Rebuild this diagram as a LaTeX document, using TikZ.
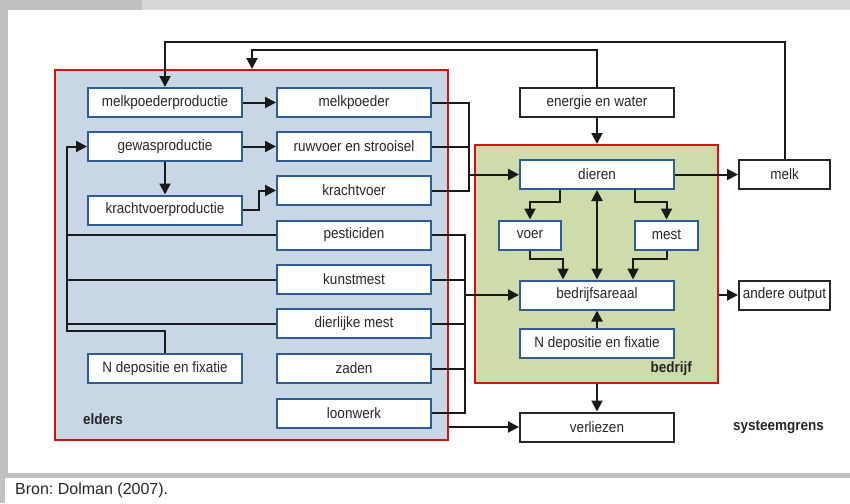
\documentclass[tikz,border=0pt]{standalone}
\usepackage{fontspec}
\setmainfont[FakeStretch=0.9]{Liberation Sans}
\newfontfamily\bronfont{Liberation Sans}
\usetikzlibrary{arrows.meta}

\definecolor{eldersblauw}{RGB}{200,214,230}
\definecolor{bedrijfgroen}{RGB}{205,220,170}
\definecolor{grensrood}{RGB}{208,20,20}
\definecolor{kaderblauw}{RGB}{46,92,150}
\definecolor{randgrijs}{RGB}{192,192,192}
\definecolor{kopgrijs}{RGB}{216,216,216}

\tikzset{
  blok/.style={draw=kaderblauw, line width=2pt, fill=white, inner sep=0pt,
    minimum width=154pt, minimum height=29pt, text=black!85,
    font=\fontsize{15}{15}\selectfont},
  kaal/.style={blok, draw=black!85},
  gebied/.style={draw=grensrood, line width=2pt, inner sep=0pt},
  lijn/.style={line width=2pt, black!90},
  pijl/.style={lijn, -{Triangle[length=11pt,width=11pt]}},
  dubbelpijl/.style={lijn, {Triangle[length=11pt,width=11pt]}-{Triangle[length=11pt,width=11pt]}},
  kop/.style={font=\fontsize{15}{15}\selectfont\bfseries, text=black!85, inner sep=0pt}
}

\begin{document}
\begin{tikzpicture}[x=1pt,y=-1pt]
    \useasboundingbox (0,0) rectangle (850,503);

    % grijze rand
    \fill[randgrijs] (0,0) rectangle (142,10);
    \fill[kopgrijs] (142,0) rectangle (850,10);
    \fill[randgrijs] (0,0) rectangle (8,478);
    \fill[randgrijs] (0,473) rectangle (850,478);
    \fill[randgrijs] (0,478) rectangle (5,503);
    \node[anchor=west, inner sep=0pt, text=black!85] (bron) at (15,490)
        {\bronfont\fontsize{16}{16}\selectfont\frenchspacing Bron: Dolman (2007).};

    % gebieden
    \node[gebied, fill=eldersblauw, minimum width=393pt, minimum height=370pt]
        (elders) at (251.5,255) {};
    \node[gebied, fill=bedrijfgroen, minimum width=243pt, minimum height=238pt]
        (bedrijf) at (596.5,264) {};
    \node[kop, anchor=west] (eldersnaam) at (83,419) {elders};
    \node[kop, anchor=east] (bedrijfnaam) at (692,369) {bedrijf};
    \node[kop, anchor=west] (grens) at (733,427) {systeemgrens};

    % blokken elders
    \node[blok] (mpp)   at (165,102.5) {melkpoederproductie};
    \node[blok] (mp)    at (354,102.5) {melkpoeder};
    \node[blok] (gp)    at (165,146.5) {gewasproductie};
    \node[blok] (rs)    at (354,146.5) {ruwvoer en strooisel};
    \node[blok] (kvp)   at (165,210)   {krachtvoerproductie};
    \node[blok] (kv)    at (354,190.5) {krachtvoer};
    \node[blok] (pest)  at (354,235)   {pesticiden};
    \node[blok] (km)    at (354,279.5) {kunstmest};
    \node[blok] (dm)    at (354,323.5) {dierlijke mest};
    \node[blok] (zaden) at (354,368.5) {zaden};
    \node[blok] (loon)  at (354,413)   {loonwerk};
    \node[blok] (ndepE) at (165,368.5) {N depositie en fixatie};

    % blokken bedrijf
    \node[blok] (dieren) at (597,174.5) {dieren};
    \node[blok, minimum width=62pt] (voer) at (530,235) {voer};
    \node[blok, minimum width=63pt] (mest) at (666.5,235) {mest};
    \node[blok] (ba)     at (597,295)   {bedrijfsareaal};
    \node[blok] (ndepB)  at (597,343.5) {N depositie en fixatie};

    % blokken buiten
    \node[kaal] (energie)   at (597,102.5) {energie en water};
    \node[kaal, minimum width=91pt] (melk)   at (784.5,174.5) {melk};
    \node[kaal, minimum width=91pt] (andere) at (784.5,295)   {andere output};
    \node[kaal] (verliezen) at (597,427) {verliezen};

    % hulppunten
    \coordinate (bovenL) at (165,42);
    \coordinate (bovenE) at (252,50);
    \coordinate (voerbus) at (469,174.5);
    \coordinate (inbus) at (465,295);
    \coordinate (terug) at (67,146.5);
    \coordinate (terughoek) at (67,331);

    % lussen boven
    \draw[pijl] (melk.north) |- (bovenL) -- (mpp.north);
    \draw[pijl] (energie.north) |- (bovenE) -- (bovenE |- elders.north);
    \draw[pijl] (energie.south) -- (energie.south |- bedrijf.north);

    % binnen elders
    \draw[pijl] (mpp) -- (mp);
    \draw[pijl] (gp) -- (rs);
    \draw[pijl] (gp) -- (kvp);
    \draw[pijl] (kvp.east) -- ++(16,0) |- (kv.west);
    \draw[pijl] (pest.west) -| (terug) -- (gp.west);
    \draw[lijn] (km.west) -- (km.west -| terug);
    \draw[lijn] (dm.west) -- (dm.west -| terug);
    \draw[lijn] (ndepE.north) |- (terughoek) -- (terug |- pest.west);

    % voer naar dieren
    \draw[lijn] (mp.east) -| (voerbus |- kv.east) -- (kv.east);
    \draw[lijn] (rs.east) -- (rs.east -| voerbus);
    \draw[pijl] (voerbus) -- (dieren.west);

    % aanvoer naar bedrijfsareaal
    \draw[lijn] (pest.east) -| (inbus |- loon.east) -- (loon.east);
    \foreach \n in {km,dm,zaden}
        \draw[lijn] (\n.east) -- (\n.east -| inbus);
    \draw[pijl] (inbus) -- (ba.west);

    % binnen bedrijf
    \draw[pijl] ([xshift=-37pt]dieren.south) -- ++(0,12) -| (voer.north);
    \draw[pijl] ([xshift=38pt]dieren.south) -- ++(0,12) -| (mest.north);
    \draw[dubbelpijl] (dieren) -- (ba);
    \draw[pijl] (voer.south) -- ++(0,8) -| ([xshift=-34pt]ba.north);
    \draw[pijl] (mest.south) -- ++(0,8) -| ([xshift=36pt]ba.north);
    \draw[pijl] (ndepB) -- (ba);

    % uitvoer
    \draw[pijl] (dieren) -- (melk);
    \draw[pijl] (bedrijf.east |- andere) -- (andere.west);
    \draw[pijl] (verliezen.north |- bedrijf.south) -- (verliezen.north);
    \draw[pijl] (elders.east |- verliezen) -- (verliezen.west);
\end{tikzpicture}
\end{document}
